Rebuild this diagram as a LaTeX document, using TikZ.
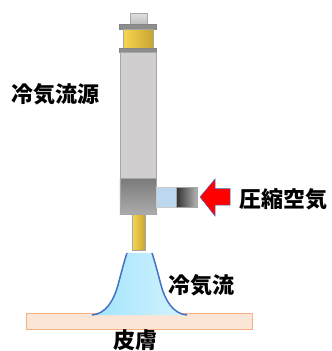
\documentclass[tikz,border=0pt]{standalone}
\usepackage{fontspec}
\usepackage{tikz}
\newfontfamily\jp{Noto Sans CJK JP}
\definecolor{bodygray}{RGB}{208,206,206}
\definecolor{edgegray}{RGB}{166,166,166}
\definecolor{lightblue}{RGB}{189,215,238}
\definecolor{coneblue}{RGB}{68,114,196}
\definecolor{skinfill}{RGB}{251,229,214}
\definecolor{skinedge}{RGB}{244,177,131}
\tikzstyle{part} = [rectangle, draw=edgegray, anchor=north west, inner sep=0pt, line width=0.8pt]
\tikzstyle{brass} = [part, left color={rgb,255:red,246;green,214;blue,82}, right color={rgb,255:red,200;green,164;blue,46}]
\tikzstyle{flange} = [part, fill=edgegray!85!black, draw=edgegray!80!black]
\tikzstyle{darkpart} = [part, top color={rgb,255:red,122;green,122;blue,122}, bottom color={rgb,255:red,172;green,172;blue,172}]
\tikzstyle{tag} = [font=\jp\bfseries\fontsize{22}{22}\selectfont, inner sep=0pt]

\begin{document}
\begin{tikzpicture}[x=1pt, y=-1pt]
	\useasboundingbox (0,0) rectangle (332,351);
	% skin
	\node[part, fill=skinfill, draw=skinedge, minimum width=226pt, minimum height=16pt] (skin) at (26,313) {};
	% cold air cone
	\shade[left color={rgb,255:red,160;green,228;blue,252}, right color={rgb,255:red,214;green,243;blue,253}]
		(92,315) .. controls (106,314) and (114,300) .. (118,285) .. controls (122,270) and (124,262) .. (127,253)
		-- (152,253) .. controls (155,262) and (157,270) .. (161,285) .. controls (165,300) and (173,314) .. (187,315) -- cycle;
	\draw[coneblue, line width=1.5pt] (92,315) .. controls (106,314) and (114,300) .. (118,285) .. controls (122,270) and (124,262) .. (127,253);
	\draw[coneblue, line width=1.5pt] (152,253) .. controls (155,262) and (157,270) .. (161,285) .. controls (165,300) and (173,314) .. (187,315);
	% cold source
	\node[part, top color=gray!25, bottom color=gray!50, minimum width=17pt, minimum height=11pt] (cap) at (130,13) {};
	\node[flange, minimum width=37pt, minimum height=5pt] (flangetop) at (119,24) {};
	\node[brass, minimum width=30pt, minimum height=19pt] (brasscap) at (123,29) {};
	\node[flange, minimum width=37pt, minimum height=4.5pt] (flangebot) at (119,47.5) {};
	\node[part, fill=bodygray, minimum width=36.5pt, minimum height=126pt] (body) at (119.5,52) {};
	\node[darkpart, minimum width=36.5pt, minimum height=36pt] (block) at (119.5,178) {};
	\node[brass, minimum width=13pt, minimum height=36pt] (nozzle) at (132,214) {};
	% air inlet
	\node[part, fill=lightblue, draw=edgegray!60, minimum width=20pt, minimum height=20pt] (inlet) at (156,187) {};
	\node[part, left color=gray!40!black, right color=gray!60, minimum width=20.5pt, minimum height=20pt] (port) at (176,187) {};
	\draw[fill=red, draw=coneblue, line width=0.5pt] (200,197) -- (215,179) -- (215,188.5) -- (230,188.5) -- (230,205) -- (215,205) -- (215,216) -- cycle;
	% labels
	\node[tag] (srclabel) at (56,94) {冷気流源};
	\node[tag] (airlabel) at (283,199) {圧縮空気};
	\node[tag] (flowlabel) at (201,285) {冷気流};
	\node[tag] (skinlabel) at (135.5,340) {皮膚};
\end{tikzpicture}
\end{document}
